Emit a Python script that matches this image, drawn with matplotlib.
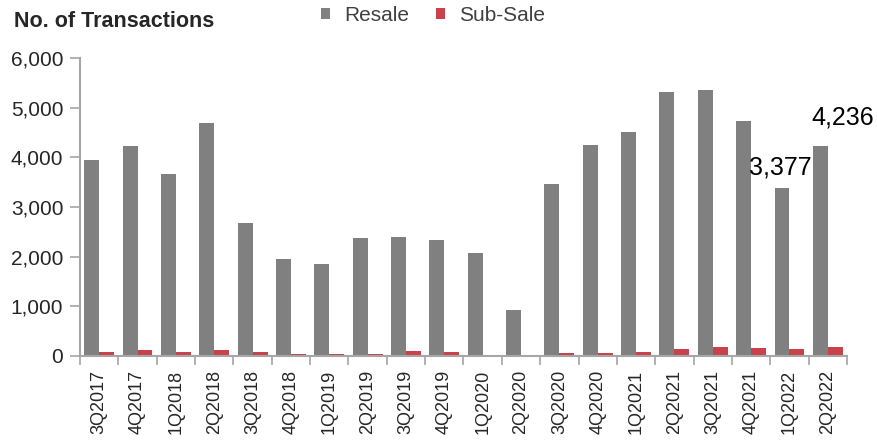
import numpy as np
import matplotlib
matplotlib.use("Agg")
import matplotlib.pyplot as plt
from matplotlib.ticker import FuncFormatter

plt.rcParams['font.family'] = ['Liberation Sans', 'DejaVu Sans']

# data
quarters = ['3Q2017', '4Q2017', '1Q2018', '2Q2018', '3Q2018', '4Q2018',
            '1Q2019', '2Q2019', '3Q2019', '4Q2019', '1Q2020', '2Q2020',
            '3Q2020', '4Q2020', '1Q2021', '2Q2021', '3Q2021', '4Q2021',
            '1Q2022', '2Q2022']
resale = [3940, 4220, 3670, 4700, 2670, 1960, 1860, 2370, 2390, 2340,
          2070, 930, 3470, 4250, 4520, 5320, 5360, 4740, 3377, 4236]
subsale = [80, 130, 80, 130, 80, 40, 30, 30, 110, 90,
           20, 5, 50, 70, 80, 150, 180, 160, 140, 180]
labelled = {18: (-0.25, 426), 19: (0.4, 573)}  # index -> (x shift, y shift) of the label

grey = '#808080'
red = '#c8414b'
axis_col = '#a6a6a6'
txt = '#262626'

fig = plt.figure(figsize=(8.77, 4.48), dpi=100)
ax = fig.add_axes([0.0912, 0.2054, 0.8746, 0.6651])

x = np.arange(len(quarters))
w = 0.39
ax.bar(x - w / 2, resale, w, color=grey, label='Resale')
ax.bar(x + w / 2, subsale, w, color=red, label='Sub-Sale')

for i, (dx, dy) in labelled.items():
    ax.text(i + dx, resale[i] + dy, f'{resale[i]:,}', ha='center', va='center',
            fontsize=18, color='black')

ax.set_xlim(-0.5, len(quarters) - 0.5)
ax.set_ylim(0, 6000)
ax.set_yticks(range(0, 6001, 1000))
ax.yaxis.set_major_formatter(FuncFormatter(lambda v, p: f'{int(v):,}'))

# x ticks between the groups
ax.set_xticks(np.arange(-0.5, len(quarters), 1.0))
ax.set_xticklabels([])
ax.set_xticks(x, minor=True)
ax.set_xticklabels(quarters, minor=True, rotation=90, fontsize=13, color=txt)
ax.tick_params(axis='x', which='major', length=6.5, color=axis_col, width=1.2)
ax.tick_params(axis='x', which='minor', length=0, pad=10)
ax.tick_params(axis='y', length=7, color=axis_col, width=1.2, labelsize=15,
               labelcolor=txt, pad=5)

for s in ['top', 'right']:
    ax.spines[s].set_visible(False)
for s in ['left', 'bottom']:
    ax.spines[s].set_color(axis_col)
    ax.spines[s].set_linewidth(1.5)

fig.text(0.016, 0.951, 'No. of Transactions', fontsize=15.5, fontweight='bold',
         ha='left', va='center', color=txt)

ax.legend(loc='center', bbox_to_anchor=(0.494, 0.966), bbox_transform=fig.transFigure,
          ncol=2, frameon=False, fontsize=15, handlelength=0.4, handleheight=0.4,
          handletextpad=0.7, columnspacing=1.3, labelcolor='#404040')

fig.savefig('out.png', dpi=100)
